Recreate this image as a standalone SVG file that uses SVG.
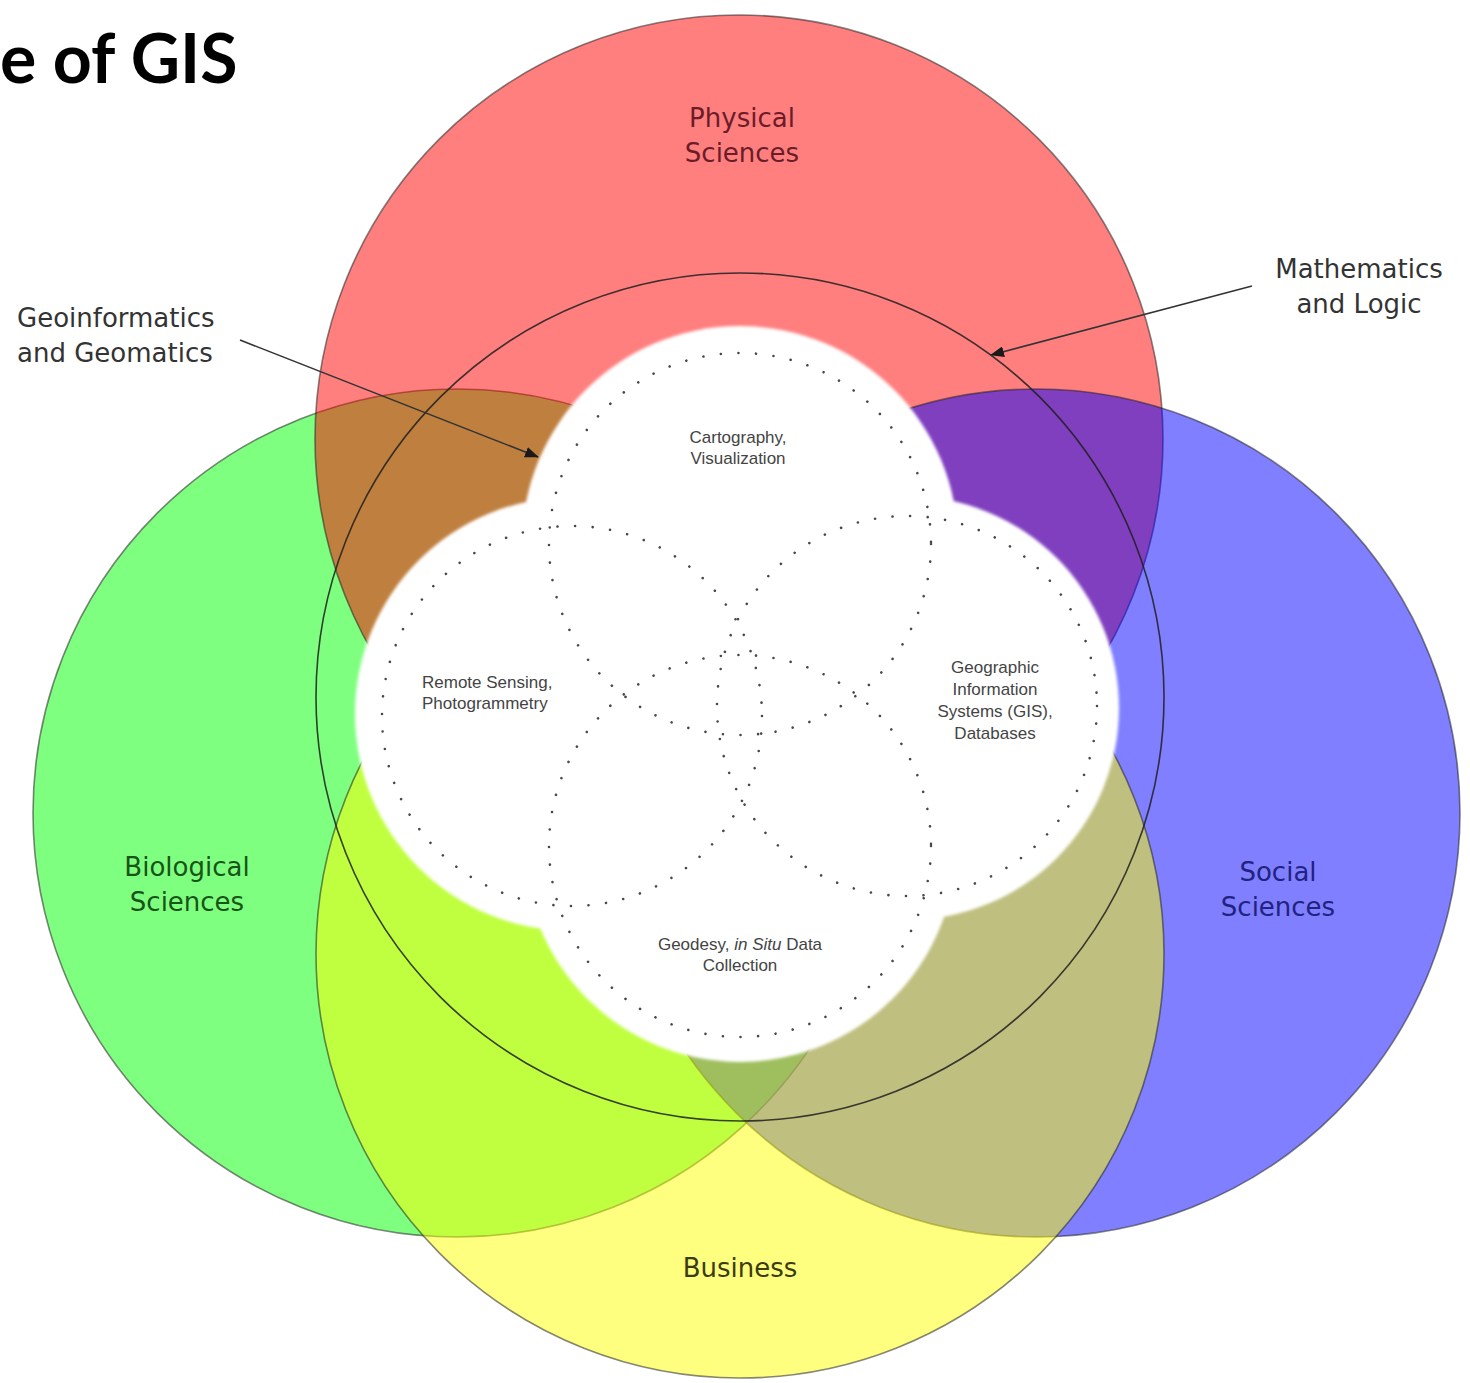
<svg xmlns="http://www.w3.org/2000/svg" width="1470" height="1383" viewBox="0 0 1470 1383">
  <style>
    .field { fill-opacity: 0.5; stroke: #222; stroke-opacity: 0.55; stroke-width: 1.6; }
    .big { font-family: "DejaVu Sans", "Liberation Sans", sans-serif; font-size: 26px; text-anchor: middle; }
    .note { font-family: "DejaVu Sans", "Liberation Sans", sans-serif; font-size: 26px; fill: #333; }
    .small { font-family: "Liberation Sans", Arial, sans-serif; font-size: 17px; fill: #444; }
    .dots { fill: none; stroke: #474747; stroke-width: 2.6; stroke-linecap: round; stroke-dasharray: 0.01 17.6; }
    .lead { fill: none; stroke: #333; stroke-width: 1.6; }
  </style>
  <defs>
    <marker id="head" viewBox="0 0 14 11" refX="13" refY="5.5" markerWidth="14" markerHeight="11" markerUnits="userSpaceOnUse" orient="auto">
      <path d="M0,0 L14,5.5 L0,11 Z" fill="#1a1a1a"/>
    </marker>
    <filter id="soft" x="-5%" y="-5%" width="110%" height="110%">
      <feGaussianBlur stdDeviation="1.4"/>
    </filter>
  </defs>

  <rect width="1470" height="1383" fill="#fff"/>

  <!-- heading -->
  <text x="0" y="83" font-family="Lato, 'Open Sans', sans-serif" font-weight="bold" font-size="68" fill="#000">e of GIS</text>

  <!-- the four discipline circles, semi-transparent so overlaps mix;
       drawing order: green, red, blue, yellow -->
  <g id="biological">
    <circle class="field" cx="457" cy="813" r="424" fill="#00ff00"/>
  </g>
  <g id="physical">
    <circle class="field" cx="739" cy="439" r="424" fill="#ff0000"/>
  </g>
  <g id="social">
    <circle class="field" cx="1036" cy="813" r="424" fill="#0000ff"/>
  </g>
  <g id="business">
    <circle class="field" cx="740" cy="954" r="424" fill="#ffff00"/>
  </g>

  <!-- mathematics and logic ring -->
  <g id="mathematics">
    <circle cx="740" cy="697" r="424" fill="none" stroke="#1e1e1e" stroke-opacity="0.85" stroke-width="1.6"/>
  </g>

  <!-- white core made of four lobes -->
  <g id="core" fill="#fff" filter="url(#soft)">
    <circle cx="740" cy="544" r="218"/>
    <circle cx="572" cy="714" r="217"/>
    <circle cx="907" cy="708" r="212"/>
    <circle cx="740" cy="846" r="216"/>
  </g>

  <!-- dotted sub-field circles -->
  <g id="cartography">
    <circle class="dots" cx="740" cy="544" r="191"/>
    <text class="small" x="738" y="443" text-anchor="middle">Cartography,</text>
    <text class="small" x="738" y="464" text-anchor="middle">Visualization</text>
  </g>
  <g id="remote-sensing">
    <circle class="dots" cx="572" cy="716" r="190"/>
    <text class="small" x="422" y="688">Remote Sensing,</text>
    <text class="small" x="422" y="709">Photogrammetry</text>
  </g>
  <g id="gis">
    <circle class="dots" cx="907" cy="706" r="190"/>
    <text class="small" x="995" y="673" text-anchor="middle">Geographic</text>
    <text class="small" x="995" y="695" text-anchor="middle">Information</text>
    <text class="small" x="995" y="717" text-anchor="middle">Systems (GIS),</text>
    <text class="small" x="995" y="739" text-anchor="middle">Databases</text>
  </g>
  <g id="geodesy">
    <circle class="dots" cx="740" cy="846" r="191"/>
    <text class="small" x="740" y="950" text-anchor="middle">Geodesy, <tspan font-style="italic">in Situ</tspan> Data</text>
    <text class="small" x="740" y="971" text-anchor="middle">Collection</text>
  </g>

  <!-- circle labels -->
  <g id="labels">
    <text class="big" x="742" y="127" fill="#6a1c28">Physical</text>
    <text class="big" x="742" y="162" fill="#6a1c28">Sciences</text>
    <text class="big" x="187" y="876" fill="#185418">Biological</text>
    <text class="big" x="187" y="911" fill="#185418">Sciences</text>
    <text class="big" x="1278" y="881" fill="#222280">Social</text>
    <text class="big" x="1278" y="916" fill="#222280">Sciences</text>
    <text class="big" x="740" y="1277" fill="#3c3c14">Business</text>
  </g>

  <!-- callouts -->
  <g id="callout-geoinformatics">
    <text class="note" x="17" y="327">Geoinformatics</text>
    <text class="note" x="17" y="362">and Geomatics</text>
  </g>
  <g id="callout-mathematics">
    <text class="note" x="1359" y="278" text-anchor="middle">Mathematics</text>
    <text class="note" x="1359" y="313" text-anchor="middle">and Logic</text>
  </g>

  <g id="connectors">
    <line class="lead" x1="240" y1="340" x2="538" y2="457" marker-end="url(#head)"/>
    <line class="lead" x1="1252" y1="286" x2="991" y2="355" marker-end="url(#head)"/>
  </g>
</svg>
